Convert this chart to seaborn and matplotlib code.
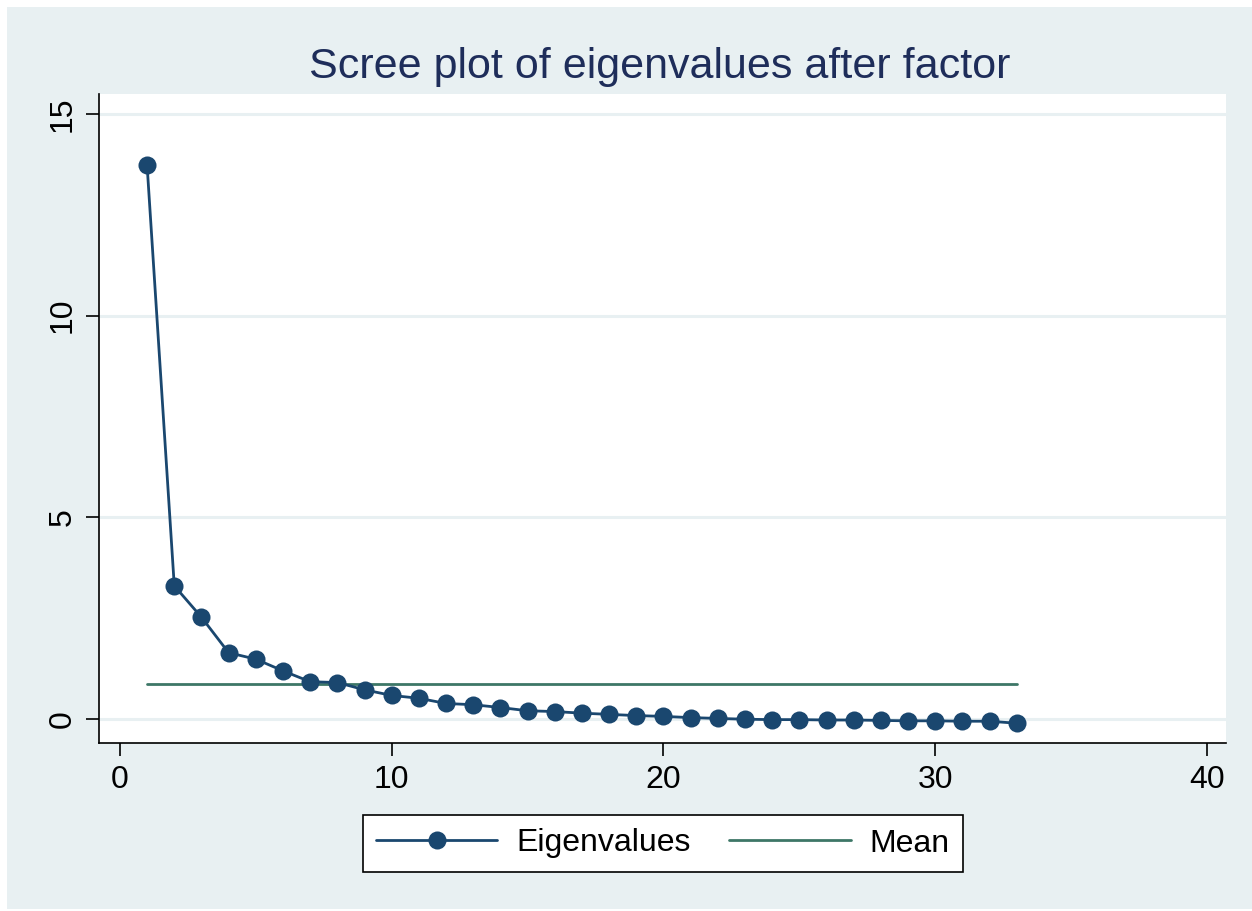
import numpy as np
import pandas as pd
import matplotlib
matplotlib.use("Agg")
import matplotlib.pyplot as plt
from matplotlib.patches import Rectangle
import seaborn as sns

# Eigenvalues after factor, one per factor number
factor_number = list(range(1, 34))
eigenvalues = [13.73, 3.30, 2.52, 1.64, 1.48, 1.19, 0.92, 0.90, 0.72, 0.58,
               0.51, 0.38, 0.35, 0.28, 0.20, 0.18, 0.14, 0.11, 0.08, 0.06,
               0.03, 0.01, -0.01, -0.02, -0.02, -0.03, -0.03, -0.04, -0.05,
               -0.05, -0.06, -0.06, -0.11]
x_ticks = [0, 10, 20, 30, 40]
y_ticks = [0, 5, 10, 15]
title_text = "Scree plot of eigenvalues after factor"

df = pd.DataFrame({"factor": factor_number, "eigen": eigenvalues})
mean_val = float(np.mean(eigenvalues))
mean_df = pd.DataFrame({"factor": [factor_number[0], factor_number[-1]],
                        "eigen": [mean_val, mean_val]})

sns.set_theme(style="white")
plt.rcParams["font.family"] = ["Liberation Sans", "DejaVu Sans"]

BG = "#e8f0f2"
NAVY = "#1a476f"
TEAL = "#3d7767"

fig = plt.figure(figsize=(12.52, 9.11), dpi=100)
fig.patch.set_facecolor("white")
fig.patches.append(Rectangle((7 / 1252, 2 / 911), 1.0, 902 / 911,
                             transform=fig.transFigure, facecolor=BG,
                             edgecolor="none", zorder=-10))

ax = fig.add_axes([99 / 1252, 1 - 743 / 911, 1127 / 1252, 649 / 911])
ax.set_facecolor("white")

for yv in y_ticks:
    ax.axhline(yv, color=BG, lw=2.2, zorder=0)

sns.lineplot(data=df, x="factor", y="eigen", ax=ax, color=NAVY, lw=2.0,
             marker="o", markersize=13, markeredgewidth=0,
             label="Eigenvalues", zorder=3)
sns.lineplot(data=mean_df, x="factor", y="eigen", ax=ax, color=TEAL,
             lw=2.0, label="Mean", zorder=2)

ax.set_xlim(-0.77, 40.7)
ax.set_ylim(-0.6, 15.5)
ax.set_xticks(x_ticks)
ax.set_yticks(y_ticks)
ax.set_xlabel("")
ax.set_ylabel("")
ax.tick_params(axis="both", direction="out", length=9.5, width=1.2,
               color="black", labelsize=23, labelcolor="black", pad=6,
               left=True, bottom=True)
for lab in ax.get_yticklabels():
    lab.set_rotation(90)
    lab.set_va("center")
for side in ["top", "right"]:
    ax.spines[side].set_visible(False)
for side in ["left", "bottom"]:
    ax.spines[side].set_color("black")
    ax.spines[side].set_linewidth(1.2)

ax.get_legend().remove()
handles, labels = ax.get_legend_handles_labels()
leg = fig.legend(handles, labels, loc="center",
                 bbox_to_anchor=(663 / 1252, 1 - 843.5 / 911), ncol=2,
                 fontsize=23, handlelength=3.8, handletextpad=0.6,
                 columnspacing=1.2, borderpad=0.42, frameon=True,
                 fancybox=False, framealpha=1.0, labelcolor="black")
leg.get_frame().set_edgecolor("black")
leg.get_frame().set_linewidth(1.2)
leg.get_frame().set_facecolor("white")

fig.text(660 / 1252, 1 - 67 / 911, title_text, ha="center", va="center",
         fontsize=31, color="#1e2d5a")

fig.savefig("out.png", dpi=100)
